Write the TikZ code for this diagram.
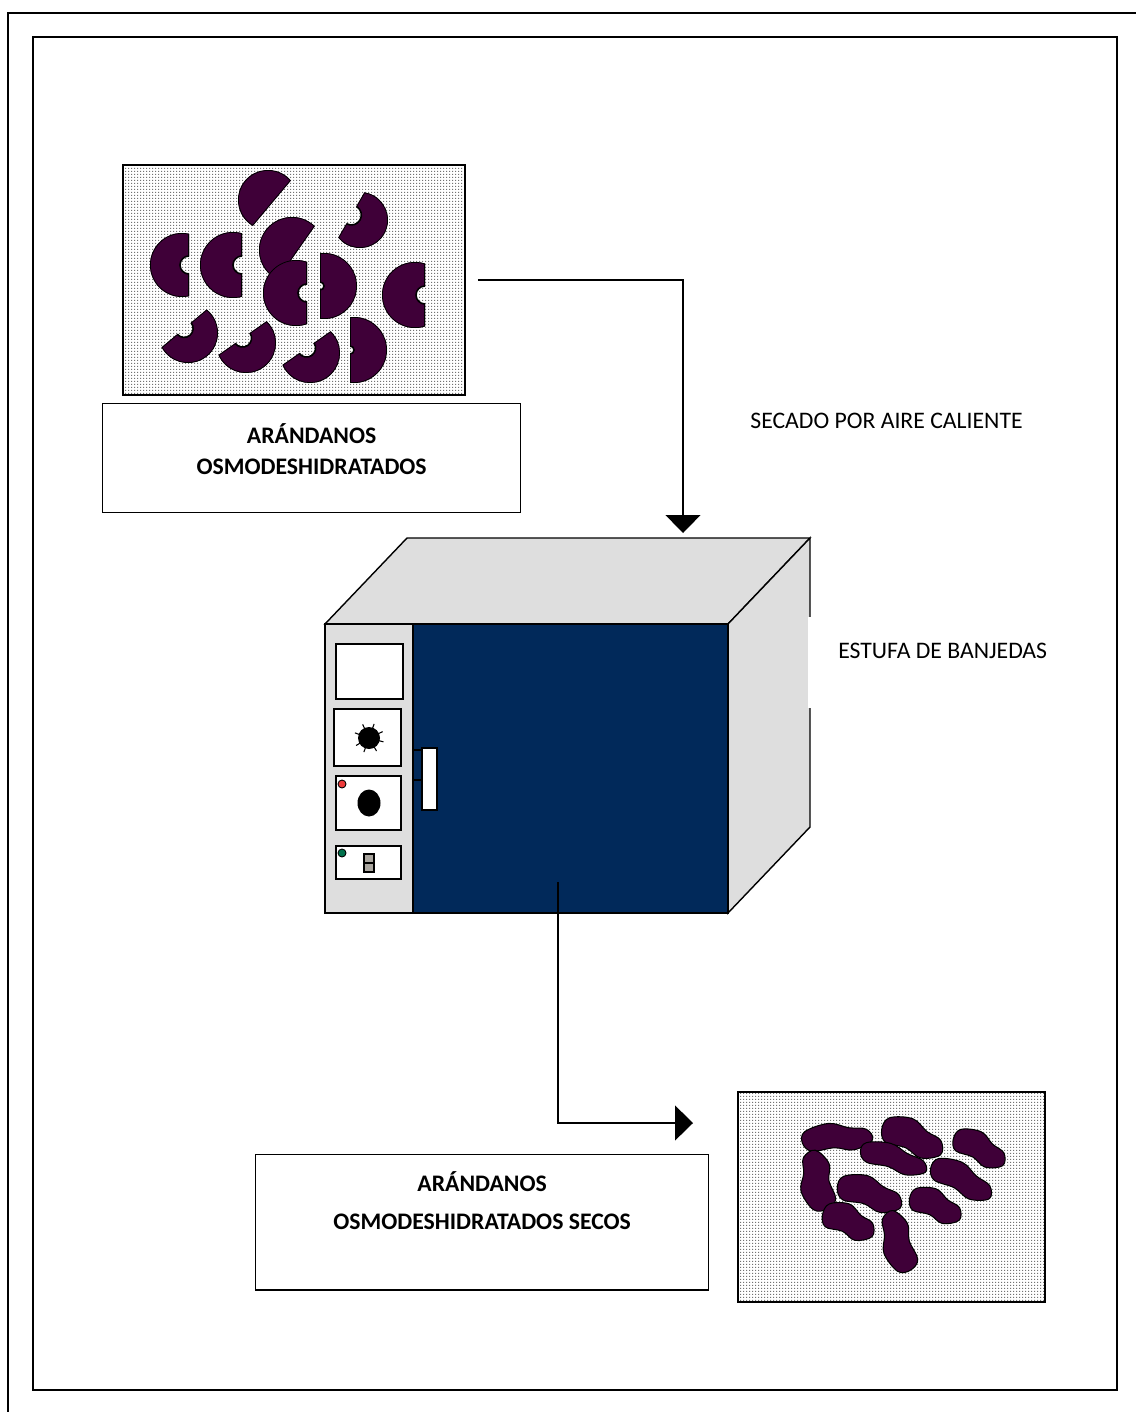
\documentclass[tikz,border=0pt]{standalone}
\usepackage{fontspec}
\setmainfont{Carlito}
\usetikzlibrary{arrows.meta,positioning,patterns.meta}

\definecolor{berryplum}{HTML}{3F0038}
\definecolor{doornavy}{HTML}{01295A}
\definecolor{casegray}{HTML}{DEDEDE}
\definecolor{switchgray}{HTML}{AAA69F}
\definecolor{lampred}{HTML}{EE3B3B}
\definecolor{lampgreen}{HTML}{00714C}

% small dot screen for the photo backgrounds
\pgfdeclarepattern{
  name=finedots,
  bottom left={\pgfpointorigin},
  top right={\pgfpoint{1.4pt}{1.4pt}},
  tile size={\pgfpoint{1.4pt}{1.4pt}},
  code={\pgfpathrectangle{\pgfpointorigin}{\pgfpoint{0.7pt}{0.7pt}}\pgfusepath{fill}}
}

% cut blueberry: x, y, radius, angle of cut side, chord offset, notch radius
\newcommand{\halfberry}[6]{%
  \begin{scope}[shift={(#1,#2)},rotate=#4]
    \clip (-#3,-#3) rectangle (#5,#3);
    \clip (0,0) circle (#3);
    \fill[berryplum,even odd rule] (0,0) circle (#3) (#5,0) circle (#6);
    \draw[line width=0.9pt] (0,0) circle (#3) (#5,0) circle (#6)
      (#5,-#3) -- (#5,-#6) (#5,#6) -- (#5,#3);
  \end{scope}}

% dried piece: x, y, half length, half width, angle
\newcommand{\driedberry}[5]{%
  \begin{scope}[shift={(#1,#2)},rotate=#5,xscale=#3,yscale=#4]
    \filldraw[fill=berryplum,draw=black,line width=0.6pt] plot[smooth cycle,tension=0.6]
      coordinates {(-1,0.2) (-0.75,0.8) (-0.1,0.7) (0.45,0.95) (1,0.4) (0.85,-0.35) (0.35,-0.55) (-0.2,-0.95) (-0.9,-0.55)};
  \end{scope}}

\begin{document}
\begin{tikzpicture}[
  x=0.02cm,y=-0.02cm,
  photo/.style={draw,line width=0.9pt,pattern={finedots},pattern color=black!55,inner sep=0},
  caption/.style={draw,line width=0.8pt,align=center,inner sep=0,anchor=north west,font=\fontsize{13.5}{18}\selectfont\bfseries},
  note/.style={inner sep=0,font=\fontsize{13.5}{16}\selectfont},
  flow/.style={line width=0.6pt,-{Triangle[width=0.7cm,length=0.36cm]}}
]
\useasboundingbox (0,0) rectangle (1136,1412);

% page frames
\draw[line width=1.2pt] (8,1412) |- (1136,13);
\draw[line width=1pt] (33,37) rectangle (1117,1390);

% fresh berries
\node[photo,minimum width=6.84cm,minimum height=4.6cm] (fresh) at (294,280) {};
\halfberry{268}{200}{30}{-40}{5}{0.01}
\halfberry{360}{220}{28}{150}{10}{10}
\halfberry{292}{250}{33}{-35}{5}{0.01}
\halfberry{182}{265}{32}{0}{7}{9}
\halfberry{233}{265}{33}{0}{9}{9}
\halfberry{296}{293}{33}{0}{11}{9}
\halfberry{324}{286}{33}{180}{4}{4}
\halfberry{415}{295}{33}{0}{10}{9}
\halfberry{188}{333}{30}{130}{6}{9}
\halfberry{246}{343}{30}{125}{6}{9}
\halfberry{310}{353}{30}{125}{6}{9}
\halfberry{354}{350}{33}{180}{4}{4}

\node[caption,minimum width=8.36cm,text height=40.5pt,text depth=21.3pt] (freshlbl) at (102,403)
  {ARÁNDANOS\\OSMODESHIDRATADOS};

\node[note,anchor=base west] (drying) at (750,428) {SECADO POR AIRE CALIENTE};

% oven body
\filldraw[fill=casegray,line width=0.8pt] (325,624) -- (407,538) -- (810,538) -- (728,624) -- cycle;
\filldraw[fill=casegray,line width=0.8pt] (728,624) -- (810,538) -- (810,827) -- (728,913) -- cycle;
\filldraw[fill=casegray,line width=0.8pt] (325,624) rectangle (413,913);
\filldraw[fill=doornavy,line width=0.8pt] (413,624) rectangle (728,913);
\coordinate (ovenin) at (683,533);
\coordinate (ovenout) at (558,882);

% control panel
\filldraw[fill=white,line width=0.8pt] (336,644) rectangle (403,699);
\filldraw[fill=white,line width=0.8pt] (334,709) rectangle (401,766);
\fill (369,738) circle (11);
\foreach \a in {15,60,110,150,200,245,290,335}
  \draw[line width=0.6pt] (369,738) ++(\a:9) -- ++(\a:6);
\filldraw[fill=white,line width=0.8pt] (336,776) rectangle (401,830);
\filldraw[fill=lampred,line width=0.5pt] (342,784) circle (4);
\fill (369,803) ellipse [x radius=11.5,y radius=13.5];
\filldraw[fill=white,line width=0.8pt] (336,846) rectangle (401,879);
\filldraw[fill=lampgreen,line width=0.5pt] (342,853) circle (4);
\filldraw[fill=switchgray,line width=0.6pt] (364,854) rectangle (374,872);
\draw[line width=0.6pt] (364,863) -- (374,863);

% door handle
\draw[line width=0.6pt] (413,750) -- (422,750) (413,780) -- (422,780);
\filldraw[fill=white,line width=0.8pt] (422,748) rectangle (437,810);

\node[note,fill=white,anchor=north west,inner xsep=0.6cm,text height=23.2pt,text depth=28.4pt] (oven) at (808,617)
  {ESTUFA DE BANJEDAS};

% dried berries
\node[photo,minimum width=6.14cm,minimum height=4.2cm] (dried) at (891.5,1197) {};
\driedberry{837}{1137}{35}{15}{5}
\driedberry{913}{1137}{32}{18}{-20}
\driedberry{980}{1148}{28}{16}{-25}
\driedberry{894}{1158}{34}{14}{-15}
\driedberry{816}{1181}{30}{18}{105}
\driedberry{962}{1179}{33}{16}{-25}
\driedberry{870}{1193}{33}{17}{-15}
\driedberry{936}{1205}{27}{16}{-20}
\driedberry{849}{1221}{27}{17}{-20}
\driedberry{897}{1242}{31}{17}{110}
\coordinate (driedin) at (693,1123);

\node[caption,minimum width=9.06cm,text height=42.8pt,text depth=34.3pt] (driedlbl) at (255,1154)
  {ARÁNDANOS\\[4pt]OSMODESHIDRATADOS SECOS};

% flow
\draw[flow] ([xshift=0.24cm]fresh.east) -| (ovenin);
\draw[flow] (ovenout) |- (driedin);
\end{tikzpicture}
\end{document}
